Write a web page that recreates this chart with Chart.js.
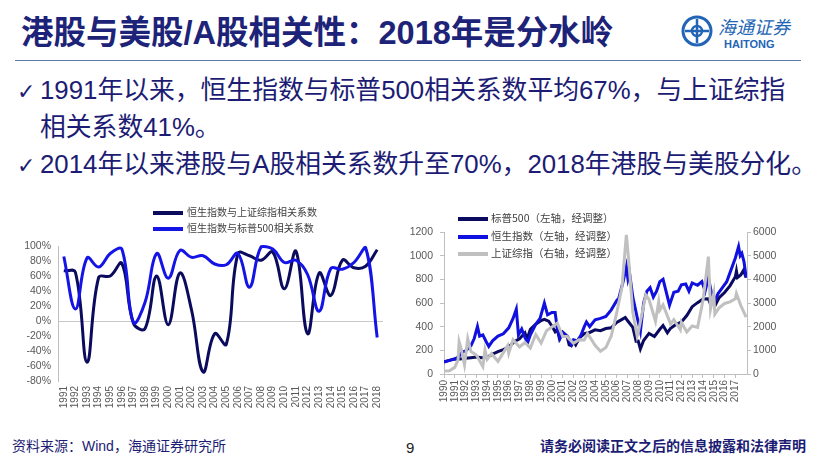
<!DOCTYPE html>
<html>
<head>
<meta charset="utf-8">
<script src="https://cdn.jsdelivr.net/npm/chart.js@4/dist/chart.umd.min.js"></script>
<style>
  body { margin: 0; background: #fff; }
  #slide { position: relative; width: 820px; height: 460px; overflow: hidden; background: #fff;
           font-family: "Liberation Sans", "Noto Sans CJK SC", sans-serif; color: #1c1c74; }
  .abs { position: absolute; white-space: nowrap; line-height: 1; }
  .lgline { position: absolute; height: 4px; }
  .lgtext { position: absolute; white-space: nowrap; line-height: 1; font-size: 10px; color: #404040;
            font-family: "Noto Sans CJK SC", sans-serif; }
  canvas { position: absolute; }
</style>
</head>
<body>
<div id="slide">
  <!-- 标题 -->
  <div class="abs" style="left:21px;top:17px;font-size:32.5px;font-weight:bold;color:#1d2378;">港股与美股/A股相关性：2018年是分水岭</div>
  <div class="abs" style="left:15px;top:60px;width:786px;height:1px;background:#5a78a8;"></div>

  <!-- logo -->
  <svg style="position:absolute;left:680px;top:14px" width="34" height="34" viewBox="0 0 34 34">
    <circle cx="17" cy="17" r="14" fill="none" stroke="#2264b6" stroke-width="3"/>
    <path d="M17 5 V29 M5 17 H29" stroke="#2264b6" stroke-width="2.5"/>
    <circle cx="17" cy="17" r="5" fill="none" stroke="#2264b6" stroke-width="2.5"/>
  </svg>
  <div class="abs" style="left:718px;top:17px;font-size:18px;font-style:italic;color:#2264b6;font-family:'Noto Sans CJK SC';">海通证券</div>
  <div class="abs" style="left:724px;top:39px;font-size:11px;font-weight:bold;color:#2264b6;">HAITONG</div>

  <!-- 要点 -->
  <div class="abs" style="left:17px;top:81px;font-size:22px;font-family:'DejaVu Sans';">✓</div>
  <div class="abs" style="left:40px;top:78px;font-size:25.8px;">1991年以来，恒生指数与标普500相关系数平均67%，与上证综指</div>
  <div class="abs" style="left:40px;top:115px;font-size:25.8px;">相关系数41%。</div>
  <div class="abs" style="left:17px;top:155px;font-size:22px;font-family:'DejaVu Sans';">✓</div>
  <div class="abs" style="left:40px;top:152px;font-size:25.8px;">2014年以来港股与A股相关系数升至70%，2018年港股与美股分化。</div>

  <canvas id="corrChart" width="400" height="220" style="left:0;top:200px;"></canvas>
  <canvas id="idxChart" width="420" height="215" style="left:400px;top:200px;"></canvas>

  <!-- 左图图例 -->
  <div class="lgline" style="left:153px;top:211px;width:30px;background:#0b0b5e;"></div>
  <div class="lgtext" style="left:187px;top:207px;">恒生指数与上证综指相关系数</div>
  <div class="lgline" style="left:153px;top:227px;width:30px;background:#1414e6;"></div>
  <div class="lgtext" style="left:187px;top:223px;">恒生指数与标普500相关系数</div>

  <!-- 右图图例 -->
  <div class="lgline" style="left:458px;top:217px;width:30px;background:#0a0a60;"></div>
  <div class="lgtext" style="left:491px;top:213px;font-size:10.5px;">标普500（左轴，经调整）</div>
  <div class="lgline" style="left:458px;top:235px;width:30px;background:#1010e0;"></div>
  <div class="lgtext" style="left:491px;top:231px;font-size:10.5px;">恒生指数（左轴，经调整）</div>
  <div class="lgline" style="left:458px;top:252px;width:30px;background:#c0c0c0;"></div>
  <div class="lgtext" style="left:491px;top:248px;font-size:10.5px;">上证综指（右轴，经调整）</div>

  <!-- 页脚 -->
  <div class="abs" style="left:12px;top:439px;font-size:14px;">资料来源：Wind，海通证券研究所</div>
  <div class="abs" style="left:406px;top:440px;font-size:15px;color:#222;">9</div>
  <div class="abs" style="left:540px;top:439px;font-size:14px;font-weight:bold;">请务必阅读正文之后的信息披露和法律声明</div>
</div>

<script>
// 左图：年度相关系数
const corrYears = ['1991','1992','1993','1994','1995','1996','1997','1998','1999','2000',
  '2001','2002','2003','2004','2005','2006','2007','2008','2009','2010',
  '2011','2012','2013','2014','2015','2016','2017','2018'];
const corrHsiSse = [67, 65, -55, 58, 60, 77, -3, -10, 60, -5, 64, 15, -68, -17, -31, 90, 87, 81, 92, 43, 93, -17, 64, 34, 81, 71, 73, 95];
const corrHsiSpx = [86, 16, 84, 72, 90, 96, -2, 25, 90, 57, 94, 85, 87, 76, 75, 90, 45, 99, 96, 78, 81, 62, 13, 70, 69, 78, 98, -22];

// 右图：指数走势（t = 距1990标签的年数）
const idxYearLabels = ['1990','1991','1992','1993','1994','1995','1996','1997','1998','1999',
  '2000','2001','2002','2003','2004','2005','2006','2007','2008','2009',
  '2010','2011','2012','2013','2014','2015','2016','2017'];
const spxT = [0,0.5,1,1.5,2,2.5,3,3.5,4,4.5,5,5.5,6,6.5,7,7.5,7.7,8,8.5,9,9.3,9.7,10,10.3,10.5,10.7,11,11.4,11.6,11.8,12,12.2,12.5,13,13.5,14,14.5,15,15.5,16,16.5,16.8,17,17.5,17.8,18,18.2,18.5,19,19.5,20,20.3,20.7,21,21.5,22,22.5,23,23.5,24,24.5,24.7,25,25.1,25.5,26,26.5,27,27.1,27.2,27.5,27.75,28];
const spxV = [102,115,128,126,134,138,143,137,141,168,189,206,228,272,298,348,294,378,421,452,462,446,406,357,377,297,353,320,246,239,271,246,300,342,351,373,366,384,391,436,462,478,452,394,277,278,212,283,343,317,378,410,348,387,419,439,494,569,603,634,635,591,629,575,646,689,745,822,870,815,837,875,815];
const hsiT = [0,0.5,1,1.4,1.7,2,2.5,2.8,3.1,3.3,3.6,3.9,4.15,4.5,5,5.5,6,6.4,6.7,6.9,7.2,7.5,7.75,8,8.5,8.9,9.3,9.6,10,10.3,10.5,10.75,11,11.5,11.8,12,12.4,12.7,13,13.2,13.5,14,14.5,15,15.5,16,16.2,16.6,16.9,17.05,17.2,17.5,17.9,18.2,18.5,18.8,19.1,19.4,19.7,20,20.3,20.9,21.3,21.7,22,22.4,22.7,23,23.5,23.9,24.2,24.5,24.8,25.1,25.4,25.8,26.2,26.6,27,27.3,27.45,27.6,27.8,28];
const hsiV = [100,115,125,150,185,195,240,300,402,320,330,275,233,280,320,340,390,470,548,330,380,310,265,330,420,470,599,500,520,520,380,300,350,310,250,290,280,330,400,440,400,458,470,486,542,620,641,781,908,800,850,650,480,360,600,700,730,650,700,781,800,582,690,700,753,760,700,770,750,781,700,815,680,620,680,730,780,880,980,1076,1000,1020,950,815];
const sseT = [0,0.5,1,1.3,1.4,1.6,1.9,2,2.2,2.5,3,3.6,3.8,4,4.4,5,5.9,6,6.4,7,7.5,8,8.5,9,9.5,10,10.5,11,11.4,12,12.5,13,13.3,14,14.5,15,15.5,16,16.5,16.9,17.1,17.5,17.9,18,18.7,19,19.6,19.9,20,20.3,21,21.3,21.9,22,22.5,23,23.5,24,24.5,24.7,25,25.1,25.5,26,26.5,27,27.1,27.5,28];
const sseV = [125,135,280,600,1370,1050,390,750,1490,950,800,315,1010,620,860,535,1200,880,1450,1145,1330,1100,1670,1310,1830,1990,2155,1580,1580,1300,1450,1440,1710,1215,960,1115,1610,2570,3700,5880,4900,2600,1600,1750,3340,3150,2230,3060,2700,2920,2110,2300,1870,2180,1775,2030,1970,3100,4960,2740,3400,2530,2800,2980,3050,3175,3400,2900,2400];

const pts = (t, v) => t.map((x, i) => ({ x: x, y: v[i] }));
const tickFont = { family: 'Liberation Sans', size: 10 };
const yFont = { family: 'Liberation Sans', size: 10.5 };

new Chart(document.getElementById('corrChart'), {
  type: 'line',
  data: {
    labels: corrYears,
    datasets: [
      { label: '恒生指数与上证综指相关系数', data: corrHsiSse, borderColor: '#0b0b5e', borderWidth: 3,
        pointRadius: 0, tension: 0.4, order: 2, clip: 4 },
      { label: '恒生指数与标普500相关系数', data: corrHsiSpx, borderColor: '#1414e6', borderWidth: 3,
        pointRadius: 0, tension: 0.4, order: 1, clip: 4 }
    ]
  },
  options: {
    responsive: false,
    animation: false,
    layout: { padding: { left: 0, right: 17, top: 46, bottom: 0 } },
    plugins: { legend: { display: false }, tooltip: { enabled: false } },
    scales: {
      x: {
        offset: true,
        grid: { display: false, drawTicks: false },
        border: { display: false },
        ticks: { minRotation: 90, maxRotation: 90, autoSkip: false, color: '#595959', font: tickFont, padding: 5 },
        afterFit(s) { s.height = 39; }
      },
      y: {
        min: -80, max: 100,
        ticks: { stepSize: 20, autoSkip: false, callback: v => v + '%', color: '#595959', font: yFont, padding: 7 },
        grid: { drawTicks: false, color: c => (c.tick && c.tick.value === 0) ? '#c8c8c8' : 'rgba(0,0,0,0)' },
        border: { color: '#bfbfbf' },
        afterFit(s) { s.width = 58; }
      }
    }
  }
});

new Chart(document.getElementById('idxChart'), {
  type: 'line',
  data: {
    datasets: [
      { label: '标普500（左轴，经调整）', data: pts(spxT, spxV), borderColor: '#0a0a60', borderWidth: 3,
        pointRadius: 0, tension: 0, yAxisID: 'y', order: 3 },
      { label: '恒生指数（左轴，经调整）', data: pts(hsiT, hsiV), borderColor: '#1010e0', borderWidth: 3,
        pointRadius: 0, tension: 0, yAxisID: 'y', order: 2 },
      { label: '上证综指（右轴，经调整）', data: pts(sseT, sseV), borderColor: '#c0c0c0', borderWidth: 3,
        pointRadius: 0, tension: 0, yAxisID: 'y2', order: 1 }
    ]
  },
  options: {
    responsive: false,
    animation: false,
    layout: { padding: { left: 0, right: 0, top: 32, bottom: 0 } },
    plugins: { legend: { display: false }, tooltip: { enabled: false } },
    scales: {
      x: {
        type: 'linear', min: 0, max: 28.08,
        afterBuildTicks(s) { s.ticks = idxYearLabels.map((_, i) => ({ value: i })); },
        ticks: { callback: v => idxYearLabels[Math.round(v)], minRotation: 90, maxRotation: 90, autoSkip: false,
                 color: '#595959', font: tickFont, padding: 2 },
        grid: { drawOnChartArea: false, tickLength: 4, color: '#bfbfbf' },
        border: { color: '#bfbfbf' },
        afterFit(s) { s.height = 41; }
      },
      y: {
        position: 'left', min: 0, max: 1200,
        ticks: { stepSize: 200, autoSkip: false, callback: v => String(v), color: '#595959', font: yFont, padding: 7 },
        grid: { drawOnChartArea: false, tickLength: 4, color: '#bfbfbf' },
        border: { color: '#bfbfbf' },
        afterFit(s) { s.width = 44; }
      },
      y2: {
        position: 'right', min: 0, max: 6000,
        ticks: { stepSize: 1000, autoSkip: false, callback: v => String(v), color: '#595959', font: yFont, padding: 2 },
        grid: { drawOnChartArea: false, tickLength: 4, color: '#bfbfbf' },
        border: { color: '#bfbfbf' },
        afterFit(s) { s.width = 73; }
      }
    }
  }
});
</script>
</body>
</html>
